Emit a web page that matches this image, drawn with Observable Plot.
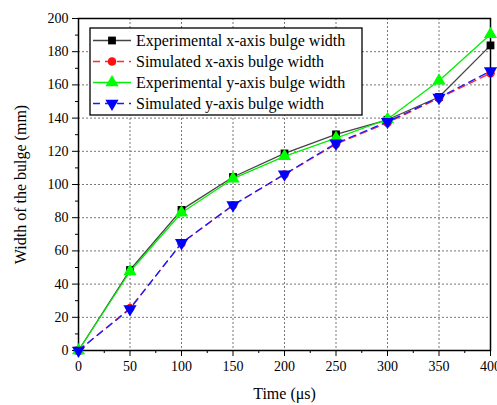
<!DOCTYPE html>
<html><head><meta charset="utf-8">
<script src="https://cdn.jsdelivr.net/npm/d3@7"></script>
<script src="https://cdn.jsdelivr.net/npm/@observablehq/plot@0.6"></script>
<style>
body{margin:0;background:#fff}
#chart{position:relative;width:497px;height:405px}
#chart svg{position:absolute;left:0;top:0}
</style>
</head><body><div id="chart"></div>
<script>
// Bulge width over time (μs), measured and simulated, along both axes
const times = [0, 50, 100, 150, 200, 250, 300, 350, 400];
const expXWidth = [0, 48.5, 84.7, 104.5, 118.7, 130.2, 139, 152.7, 183.8];
const simXWidth = [0, 25.5, 64.5, 87.5, 106, 124.3, 137.2, 152, 167];
const expYWidth = [0, 47.6, 83, 103.5, 117, 128, 139.3, 162.5, 190.5];
const simYWidth = [0, 25, 64.8, 87.6, 106.2, 124.8, 137.8, 152.4, 168.3];

const seriesNames = [
  "Experimental x-axis bulge width",
  "Simulated x-axis bulge width",
  "Experimental y-axis bulge width",
  "Simulated y-axis bulge width"
];
const xTicks = [0, 50, 100, 150, 200, 250, 300, 350, 400];
const xMinor = [25, 75, 125, 175, 225, 275, 325, 375];
const yTicks = [0, 20, 40, 60, 80, 100, 120, 140, 160, 180, 200];
const yMinor = [10, 30, 50, 70, 90, 110, 130, 150, 170, 190];

// downward-pointing triangle, mirror of d3.symbolTriangle
const triangleDown = {
  draw(ctx, size) {
    const y = -Math.sqrt(size / (Math.sqrt(3) * 3));
    ctx.moveTo(0, -y * 2);
    ctx.lineTo(-Math.sqrt(3) * y, y);
    ctx.lineTo(Math.sqrt(3) * y, y);
    ctx.closePath();
  }
};

const styles = [
  {values: expXWidth, stroke: "#444", fill: "#000", dash: null, symbol: d3.symbolSquare, r: 4.4},
  {values: simXWidth, stroke: "#ff2a2a", fill: "#ff1010", dash: "7,5", symbol: d3.symbolCircle, r: 4.3},
  {values: expYWidth, stroke: "#00ee00", fill: "#00ff00", dash: null, symbol: d3.symbolTriangle, r: 4.9},
  {values: simYWidth, stroke: "#1a1aff", fill: "#0000ff", dash: "7,5", symbol: triangleDown, r: 4.9}
];

const rows = styles.map(s => times.map((t, i) => ({t, v: s.values[i]})));

const serif = "Liberation Serif";

const seriesMarks = styles.flatMap((s, k) => [
  Plot.line(rows[k], {x: "t", y: "v", stroke: s.stroke, strokeWidth: 1.3, strokeDasharray: s.dash}),
  Plot.dot(rows[k], {x: "t", y: "v", symbol: s.symbol, r: s.r, fill: s.fill, stroke: "none"})
]);

const chart = Plot.plot({
  width: 497,
  height: 405,
  marginLeft: 78,
  marginRight: 7,
  marginTop: 18,
  marginBottom: 55,
  style: {fontFamily: serif, fontSize: "14px", color: "#000", background: "#fff"},
  x: {domain: [0, 400]},
  y: {domain: [0, 200]},
  marks: [
    Plot.gridX(xTicks.slice(1, -1), {stroke: "#777", strokeOpacity: 1, strokeDasharray: "2,2"}),
    Plot.gridY(yTicks.slice(1, -1), {stroke: "#777", strokeOpacity: 1, strokeDasharray: "2,2"}),
    Plot.axisX(xTicks, {tickSize: 6, tickPadding: 5, fontSize: 14, label: null}),
    Plot.axisX(xMinor, {tickSize: 3, text: null, label: null}),
    Plot.axisY(yTicks, {tickSize: 6, tickPadding: 4, fontSize: 14, label: null}),
    Plot.axisY(yMinor, {tickSize: 3, text: null, label: null}),
    Plot.axisX([], {label: "Time (μs)", labelAnchor: "center", labelArrow: "none", labelOffset: 48, fontSize: 16}),
    Plot.axisY([], {label: "Width of the bulge (mm)", labelAnchor: "center", labelArrow: "none", labelOffset: 64, fontSize: 16}),
    Plot.frame({stroke: "#000", strokeWidth: 1.5}),
    ...seriesMarks
  ]
});

// serif face for every label the plot draws
d3.select(chart).attr("font-family", serif).style("font-family", serif);
d3.select(chart).selectAll("g, text")
  .attr("font-family", serif).style("font-family", serif)
  .style("font-weight", "normal");

const host = document.getElementById("chart");
host.appendChild(chart);

// legend box inside the upper-left of the plot area
const lg = d3.select(host).append("svg")
  .attr("width", 497).attr("height", 405)
  .style("pointer-events", "none");
const box = {x: 90, y: 28, w: 272, h: 87};
lg.append("rect")
  .attr("x", box.x).attr("y", box.y).attr("width", box.w).attr("height", box.h)
  .attr("fill", "#fff").attr("stroke", "#000").attr("stroke-width", 1.3);
const rowH = 21;
styles.forEach((s, k) => {
  const cy = box.y + 12.5 + k * rowH;
  const g = lg.append("g");
  g.append("line")
    .attr("x1", box.x + 3).attr("x2", box.x + 41).attr("y1", cy).attr("y2", cy)
    .attr("stroke", s.stroke).attr("stroke-width", 1.3)
    .attr("stroke-dasharray", s.dash);
  g.append("path")
    .attr("transform", `translate(${box.x + 22},${cy})`)
    .attr("d", d3.symbol(s.symbol, s.r * s.r * Math.PI)())
    .attr("fill", s.fill);
  g.append("text")
    .attr("x", box.x + 46).attr("y", cy).attr("dy", "0.35em")
    .attr("font-family", serif).style("font-family", serif)
    .attr("font-size", 16)
    .attr("fill", "#000")
    .text(seriesNames[k]);
});
</script>
</body></html>
